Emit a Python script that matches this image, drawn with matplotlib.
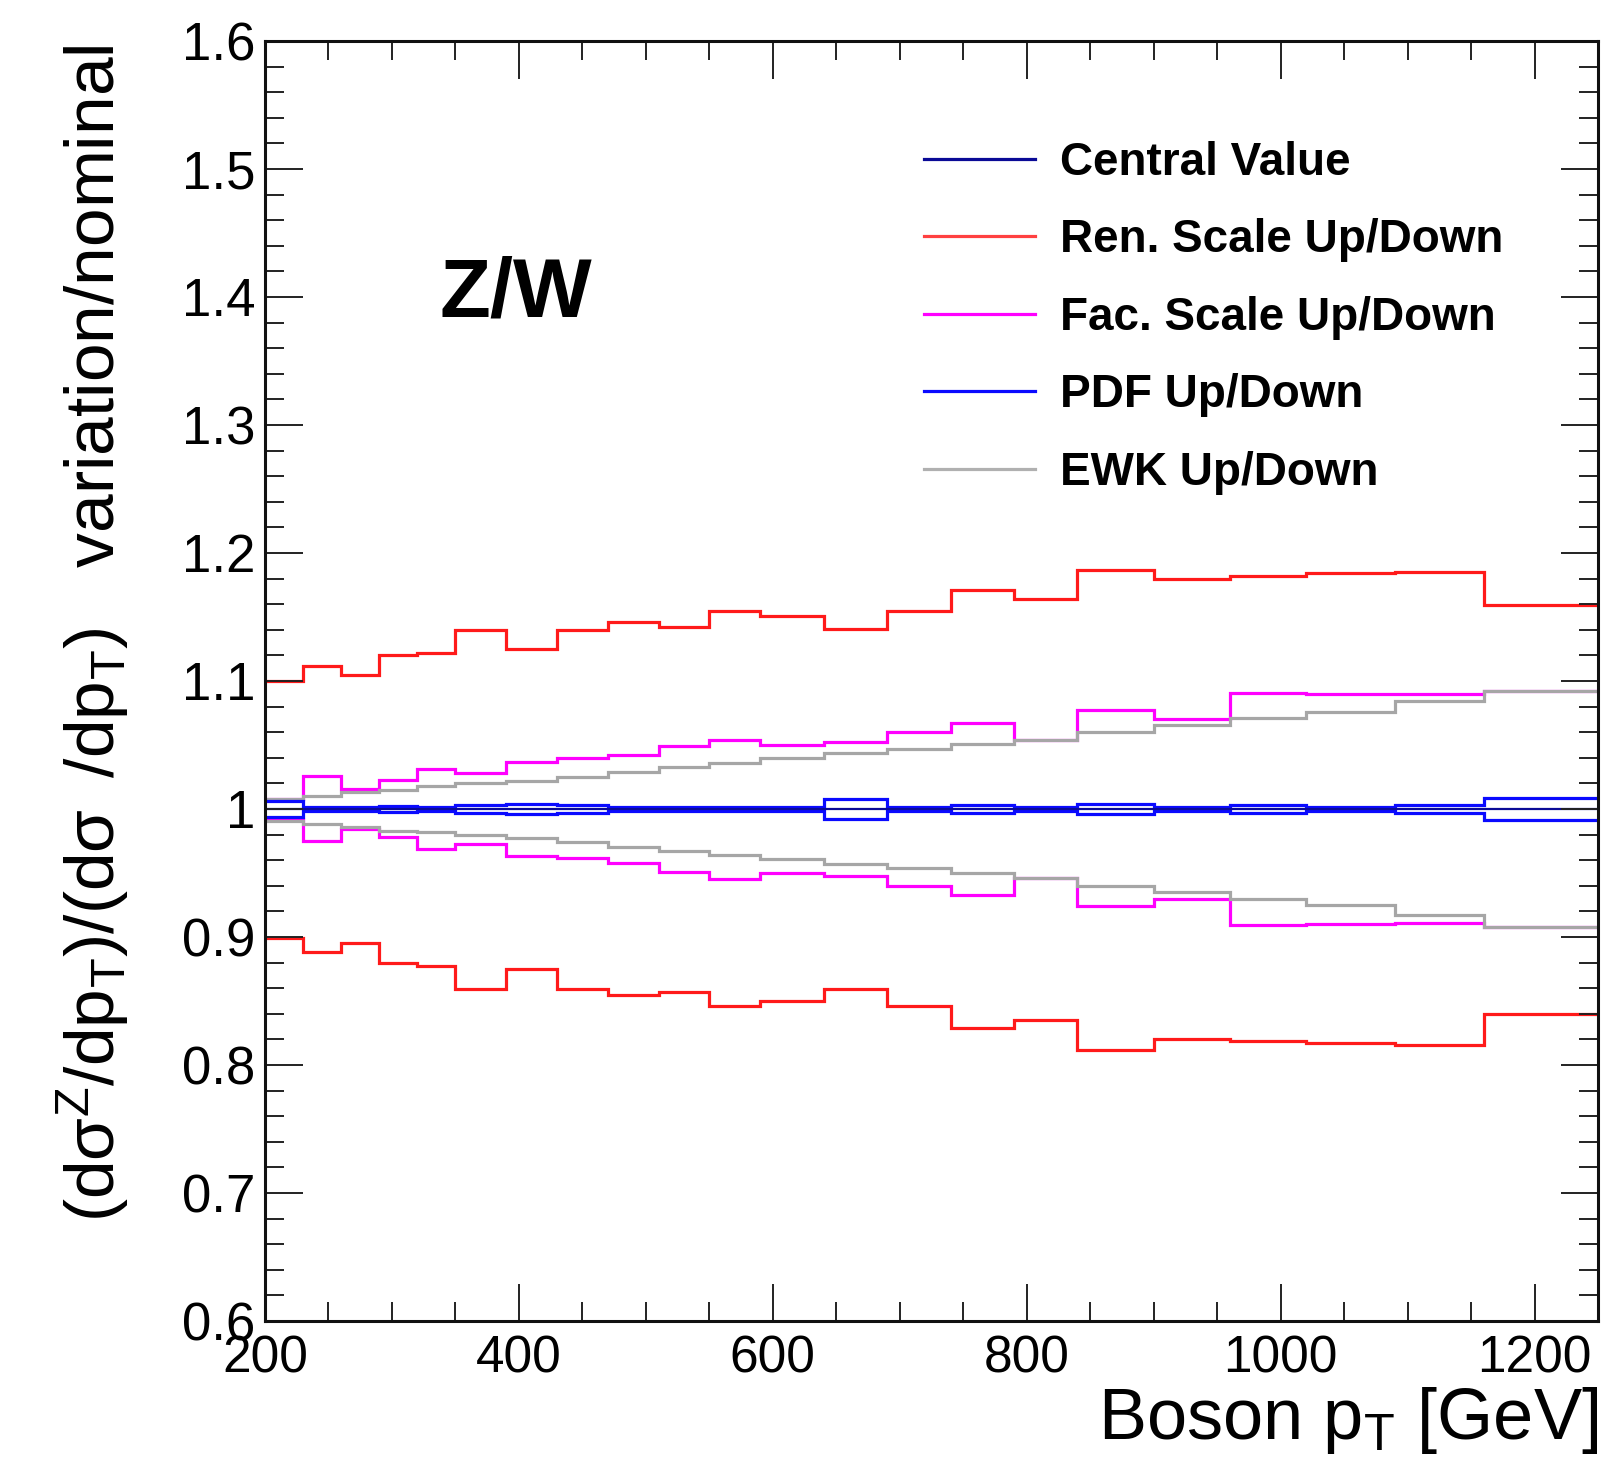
import numpy as np
import matplotlib
matplotlib.use('Agg')
import matplotlib.pyplot as plt
from matplotlib.ticker import MultipleLocator
from matplotlib.lines import Line2D

plt.rcParams['font.family'] = ['Liberation Sans', 'DejaVu Sans']
plt.rcParams['mathtext.fontset'] = 'custom'
plt.rcParams['mathtext.rm'] = 'Liberation Sans'
plt.rcParams['mathtext.it'] = 'Liberation Sans'
plt.rcParams['mathtext.bf'] = 'Liberation Sans:bold'
plt.rcParams['mathtext.default'] = 'regular'

# ---- data ----
bin_edges = [200, 230, 260, 290, 320, 350, 390, 430, 470, 510, 550, 590,
             640, 690, 740, 790, 840, 900, 960, 1020, 1090, 1160, 1250]

central = [1.0] * 22
ren_up = [1.100, 1.112, 1.105, 1.120, 1.122, 1.140, 1.125, 1.140, 1.146, 1.142, 1.155,
          1.151, 1.141, 1.155, 1.171, 1.164, 1.187, 1.180, 1.182, 1.184, 1.185, 1.159]
ren_down = [0.899, 0.888, 0.895, 0.880, 0.877, 0.859, 0.875, 0.859, 0.855, 0.857, 0.846,
            0.850, 0.859, 0.846, 0.829, 0.835, 0.812, 0.820, 0.819, 0.817, 0.816, 0.840]
fac_up = [1.008, 1.026, 1.016, 1.023, 1.031, 1.028, 1.037, 1.040, 1.042, 1.049, 1.054,
          1.050, 1.052, 1.060, 1.067, 1.054, 1.077, 1.070, 1.091, 1.090, 1.090, 1.092]
fac_down = [0.992, 0.975, 0.984, 0.978, 0.969, 0.973, 0.963, 0.962, 0.958, 0.951, 0.945,
            0.950, 0.948, 0.940, 0.933, 0.946, 0.924, 0.930, 0.909, 0.910, 0.911, 0.908]
ewk_up = [1.008, 1.010, 1.013, 1.015, 1.018, 1.020, 1.022, 1.025, 1.029, 1.033, 1.036,
          1.040, 1.0435, 1.047, 1.051, 1.054, 1.060, 1.066, 1.071, 1.076, 1.084, 1.092]
ewk_down = [0.991, 0.988, 0.986, 0.983, 0.982, 0.980, 0.977, 0.974, 0.970, 0.967, 0.964,
            0.961, 0.957, 0.954, 0.950, 0.946, 0.940, 0.935, 0.930, 0.925, 0.917, 0.908]
pdf_up = [1.006, 1.0015, 1.0015, 1.002, 1.0015, 1.003, 1.004, 1.003, 1.0015, 1.0015, 1.0015,
          1.0015, 1.0075, 1.0015, 1.003, 1.0015, 1.004, 1.0015, 1.003, 1.0015, 1.003, 1.0085]
pdf_down = [0.994, 0.9985, 0.9985, 0.998, 0.9985, 0.997, 0.996, 0.997, 0.9985, 0.9985, 0.9985,
            0.9985, 0.9925, 0.9985, 0.997, 0.9985, 0.996, 0.9985, 0.997, 0.9985, 0.997, 0.9915]

labels = ['Central Value', 'Ren. Scale Up/Down', 'Fac. Scale Up/Down',
          'PDF Up/Down', 'EWK Up/Down']

# ---- figure ----
fig = plt.figure(figsize=(16.14, 14.76), dpi=100)
ax = fig.add_axes([265 / 1614, 1 - 1321 / 1476, 1333 / 1614, 1280 / 1476])

c_central = '#0a0a96'
c_ren = '#ff1a1a'
c_fac = '#ff00ff'
c_pdf = '#0a0aff'
c_ewk = '#a6a6a6'
lw = 2.3

edges = np.array(bin_edges, dtype=float)
ax.stairs(ren_up, edges, baseline=None, color=c_ren, lw=lw)
ax.stairs(ren_down, edges, baseline=None, color=c_ren, lw=lw)
ax.stairs(fac_up, edges, baseline=None, color=c_fac, lw=lw)
ax.stairs(fac_down, edges, baseline=None, color=c_fac, lw=lw)
ax.stairs(ewk_up, edges, baseline=None, color=c_ewk, lw=lw)
ax.stairs(ewk_down, edges, baseline=None, color=c_ewk, lw=lw)
ax.stairs(pdf_up, edges, baseline=None, color=c_pdf, lw=lw)
ax.stairs(pdf_down, edges, baseline=None, color=c_pdf, lw=lw)
ax.stairs(central, edges, baseline=None, color=c_central, lw=1.6)

ax.set_xlim(200, 1250)
ax.set_ylim(0.6, 1.6)

ax.xaxis.set_major_locator(MultipleLocator(200))
ax.xaxis.set_minor_locator(MultipleLocator(50))
ax.yaxis.set_minor_locator(MultipleLocator(0.02))
ax.set_yticks(np.arange(0.6, 1.61, 0.1))
ax.set_yticklabels(['0.6', '0.7', '0.8', '0.9', '1', '1.1', '1.2', '1.3', '1.4', '1.5', '1.6'])

ax.tick_params(which='both', direction='in', top=True, right=True, width=1.4, color='#222222')
ax.tick_params(which='major', length=27)
ax.tick_params(which='minor', length=14)
ax.tick_params(axis='y', which='major', labelsize=38, pad=7)
ax.tick_params(axis='x', which='major', labelsize=37, pad=10)
for s in ax.spines.values():
    s.set_linewidth(2.2)
    s.set_color('#111111')

ax.text(-0.129, 0.5375,
        r'$(d\sigma^{Z}/dp_{T})/(d\sigma\;\;/dp_{T})$   variation/nominal',
        transform=ax.transAxes, rotation=90, ha='center', va='center', fontsize=50)
ax.set_xlabel(r'Boson p$_{T}$ [GeV]', fontsize=52, loc='right')
ax.xaxis.set_label_coords(1.0, -0.05)

ax.text(0.131, 0.802, 'Z/W', transform=ax.transAxes, fontsize=60, fontweight='bold',
        ha='left', va='center')

handles = [Line2D([], [], color=c_central, lw=lw),
           Line2D([], [], color='#ff4040', lw=lw),
           Line2D([], [], color=c_fac, lw=lw),
           Line2D([], [], color=c_pdf, lw=lw),
           Line2D([], [], color='#b0b0b0', lw=lw)]
leg = ax.legend(handles, labels, loc='upper left', bbox_to_anchor=(0.4944, 0.922),
                frameon=False, borderpad=0, borderaxespad=0, handlelength=2.42,
                handletextpad=0.55, labelspacing=0.73,
                prop={'size': 33, 'weight': 'bold'})

fig.savefig('out.png', dpi=100)
